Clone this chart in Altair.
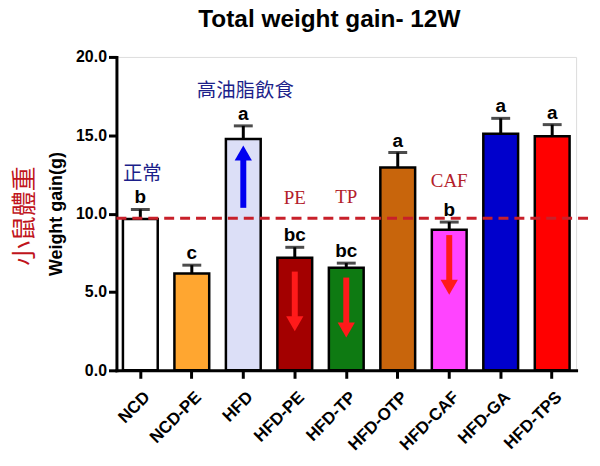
import altair as alt
import pandas as pd

groups = ["NCD", "NCD-PE", "HFD", "HFD-PE", "HFD-TP", "HFD-OTP", "HFD-CAF", "HFD-GA", "HFD-TPS"]
means = [9.65, 6.18, 14.76, 7.19, 6.54, 12.95, 8.97, 15.09, 14.94]
err_top = [10.27, 6.71, 15.60, 7.85, 6.84, 13.90, 9.46, 16.08, 15.68]
letters = ["b", "c", "a", "bc", "bc", "a", "b", "a", "a"]
colors = ["#FFFFFF", "#FFA630", "#DCDFF7", "#A30000", "#0E7A12", "#C8650C", "#FF44FF", "#0000CC", "#FF0000"]

ref_value = [9.7]

zh_notes = ["正常", "高油脂飲食"]
zh_groups = ["NCD", "HFD"]
zh_y = [12.5, 17.8]

en_notes = ["PE", "TP", "CAF"]
en_groups = ["HFD-PE", "HFD-TP", "HFD-CAF"]
en_y = [10.98, 11.08, 12.1]

arrow_groups = ["HFD", "HFD-PE", "HFD-TP", "HFD-CAF"]
arrow_start = [10.37, 6.30, 5.92, 8.63]
arrow_tip = [14.35, 2.50, 2.10, 4.83]
arrow_dir = ["up", "down", "down", "down"]
arrow_color = ["#0000F0", "#FF1A1A", "#FF1A1A", "#FF1A1A"]

side_label = ["小鼠體重"]

bars = pd.DataFrame({"group": groups, "mean": means, "err": err_top, "letter": letters})
zh = pd.DataFrame({"group": zh_groups, "y": zh_y, "t": zh_notes})
en = pd.DataFrame({"group": en_groups, "y": en_y, "t": en_notes})
head_half = 0.48
arrows = pd.DataFrame({
    "group": arrow_groups,
    "start": arrow_start,
    "tip": arrow_tip,
    "dir": arrow_dir,
    "col": arrow_color,
    "shaft_end": [t - head_half if d == "up" else t + head_half for t, d in zip(arrow_tip, arrow_dir)],
})
ref_df = pd.DataFrame({"v": ref_value})
side_df = pd.DataFrame({"t": side_label})

FONT = "Liberation Sans"

xscale = alt.Scale(domain=groups, paddingInner=0.324, paddingOuter=0.126)
yscale = alt.Scale(domain=[0, 20])

X = alt.X("group:N", sort=groups, scale=xscale, title=None,
          axis=alt.Axis(labelAngle=-45, labelAlign="right", labelBaseline="middle",
                        labelFont=FONT, labelFontSize=17, labelFontWeight="bold",
                        labelColor="black", labelPadding=16, labelOffset=7,
                        domainColor="black", domainWidth=3, domainCap="square",
                        tickColor="black", tickWidth=3, tickSize=8))
Y = alt.Y("mean:Q", scale=yscale, title="Weight gain(g)",
          axis=alt.Axis(values=[0, 5, 10, 15, 20], format=".1f", grid=False,
                        labelFont=FONT, labelFontSize=16, labelFontWeight="bold",
                        labelColor="black", labelPadding=2,
                        domainColor="black", domainWidth=3, domainCap="square",
                        tickColor="black", tickWidth=3, tickSize=8,
                        titleFont=FONT, titleFontSize=18, titleFontWeight="bold",
                        titleColor="black", titlePadding=10))

base = alt.Chart(bars)

err_rule = base.mark_rule(color="black", strokeWidth=3).encode(
    x=X, y=Y, y2="err:Q")
bar = base.mark_bar(stroke="black", strokeWidth=2.5).encode(
    x=X, y=Y,
    color=alt.Color("group:N", scale=alt.Scale(domain=groups, range=colors), legend=None))
cap = base.mark_tick(orient="horizontal", size=19, thickness=3, color="black").encode(
    x=X, y=alt.Y("err:Q", scale=yscale))
letter_text = base.mark_text(font=FONT, fontSize=19, fontWeight="bold", color="black",
                             baseline="alphabetic", dy=-6).encode(
    x=X, y=alt.Y("err:Q", scale=yscale), text="letter:N")

arrow_color_enc = alt.Color("col:N", scale=None)
shaft = alt.Chart(arrows).mark_rule(strokeWidth=6, strokeCap="butt").encode(
    x=X, y=alt.Y("start:Q", scale=yscale), y2="shaft_end:Q", color=arrow_color_enc)
head_up = alt.Chart(arrows).transform_filter(alt.datum.dir == "up").mark_point(
    shape="triangle-up", size=300, filled=True, opacity=1, strokeWidth=0, yOffset=7.5).encode(
    x=X, y=alt.Y("tip:Q", scale=yscale), color=arrow_color_enc)
head_down = alt.Chart(arrows).transform_filter(alt.datum.dir == "down").mark_point(
    shape="triangle-down", size=300, filled=True, opacity=1, strokeWidth=0, yOffset=-7.5).encode(
    x=X, y=alt.Y("tip:Q", scale=yscale), color=arrow_color_enc)

zh_text = alt.Chart(zh).mark_text(font="Noto Sans CJK TC", fontSize=19.5, color="#1C1F8A",
                                  baseline="middle", dx=2).encode(
    x=X, y=alt.Y("y:Q", scale=yscale), text="t:N")
en_text = alt.Chart(en).mark_text(font="Liberation Serif", fontSize=19, color="#B3202A",
                                  baseline="middle").encode(
    x=X, y=alt.Y("y:Q", scale=yscale), text="t:N")

ref_line = alt.Chart(ref_df).mark_rule(color="#C8202A", strokeWidth=3, strokeDash=[10, 6]).encode(
    y=alt.Y("v:Q", scale=yscale), x=alt.value(0), x2=alt.value(480))

side = alt.Chart(side_df).mark_text(font="Noto Sans CJK TC", fontSize=25, color="#C0141C",
                                    angle=270, baseline="middle", align="center").encode(
    x=alt.value(-92), y=alt.value(160), text="t:N")

chart = alt.layer(
    err_rule, bar, shaft, head_up, head_down, cap, letter_text, zh_text, en_text, ref_line, side
).properties(
    width=462, height=315,
    title=alt.TitleParams("Total weight gain- 12W", font=FONT, fontSize=24.5, fontWeight="bold",
                          color="black", anchor="middle", dx=-17, offset=17),
    autosize=alt.AutoSizeParams(type="none"),
    padding={"left": 109, "top": 48, "right": 16, "bottom": 95},
).configure_view(stroke=None).configure(background="white")

chart.save("out.html", embed_options={"renderer": "svg", "actions": False})
